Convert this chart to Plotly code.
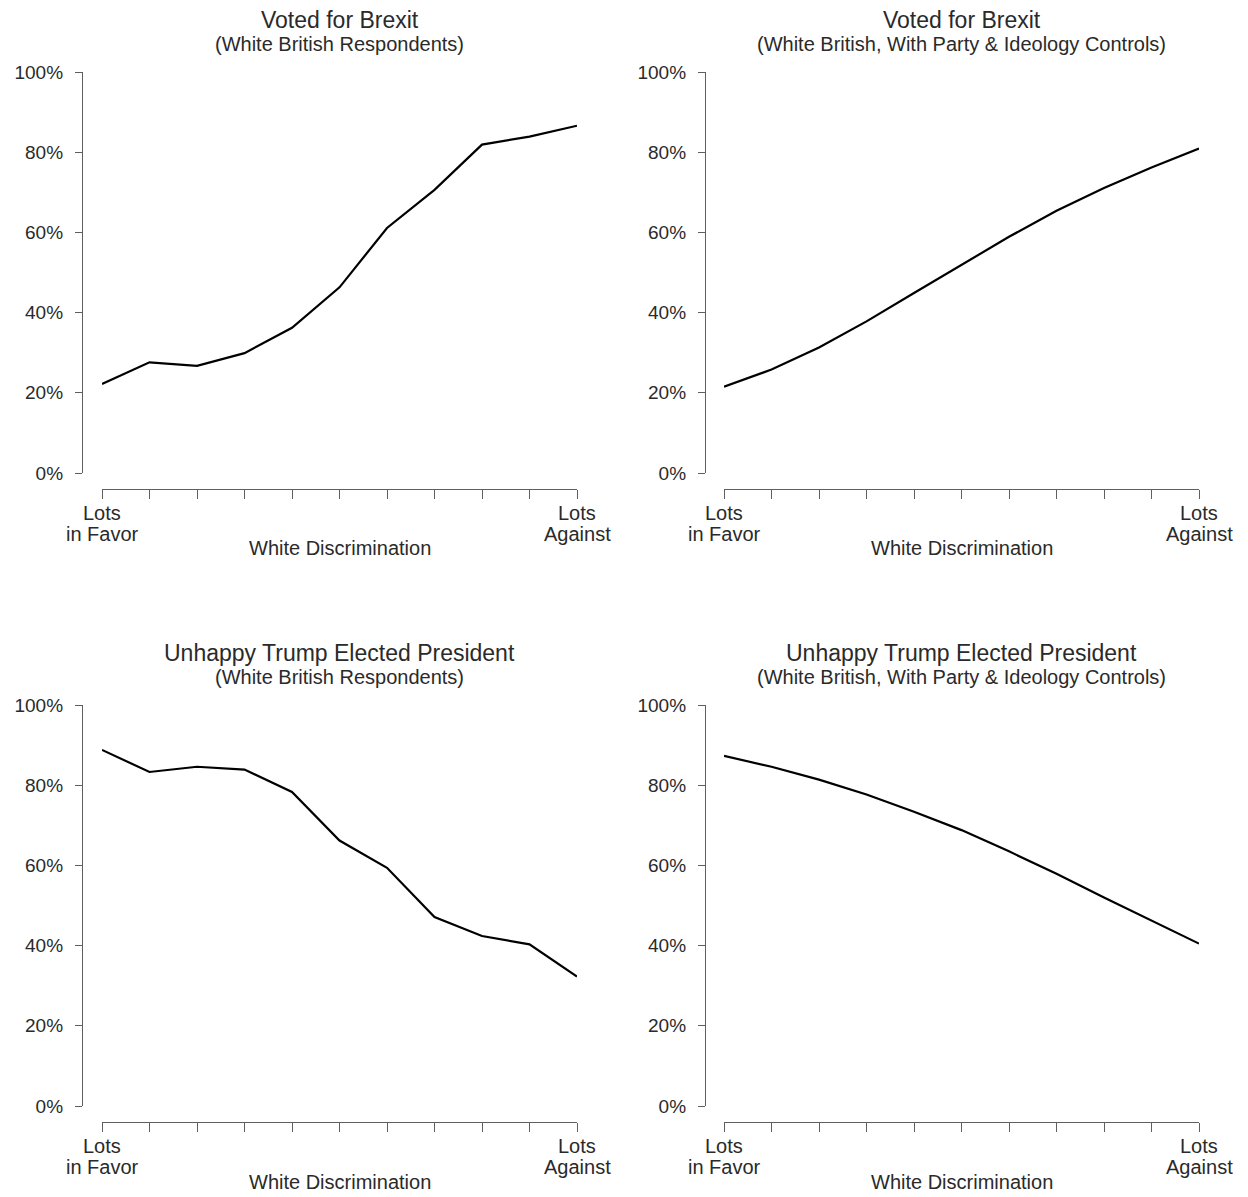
import plotly.graph_objects as go

# page body has an 8px margin; lay things out in reference pixels and shift
OFF = 8
W, H = 1248 - OFF, 1197 - OFF

# ---- data ----
levels = list(range(11))  # White discrimination scale, 0 = Lots in Favor, 10 = Lots Against
brexit_raw = [22.2, 27.6, 26.7, 29.9, 36.2, 46.3, 61.1, 70.6, 81.9, 83.9, 86.6]
brexit_ctrl = [21.5, 25.8, 31.3, 37.8, 44.9, 51.9, 58.9, 65.4, 71.1, 76.2, 80.9]
trump_raw = [88.8, 83.3, 84.6, 83.9, 78.3, 66.2, 59.4, 47.1, 42.4, 40.3, 32.3]
trump_ctrl = [87.3, 84.6, 81.4, 77.7, 73.4, 68.8, 63.5, 57.9, 52.0, 46.3, 40.5]

titles = ["Voted for Brexit", "Voted for Brexit",
          "Unhappy Trump Elected President", "Unhappy Trump Elected President"]
subtitles = ["(White British Respondents)", "(White British, With Party & Ideology Controls)",
             "(White British Respondents)", "(White British, With Party & Ideology Controls)"]
x_title = "White Discrimination"
y_tickvals = [0, 20, 40, 60, 80, 100]
y_ticktext = ["0%", "20%", "40%", "60%", "80%", "100%"]
end_labels_line1 = ["Lots", "Lots"]
end_labels_line2 = ["in Favor", "Against"]

series = [brexit_raw, brexit_ctrl, trump_raw, trump_ctrl]

# ---- layout geometry (reference pixels) ----
col_x = [(102, 577), (724, 1199)]      # data span of x axis
col_yline = [82, 705]                   # y-axis line position
row_y = [(473, 72), (1106, 705)]        # 0% and 100% positions
row_xline = [489, 1122]                 # x-axis line position
row_title = [20, 653]
row_sub = [44, 677]
row_lab1 = [513, 1146]
row_lab2 = [534, 1167]
row_xtitle = [548, 1182]


def fx(px):
    return (px - OFF) / W


def fy(py):
    return 1 - (py - OFF) / H


FONT = "Liberation Sans, Arial, sans-serif"
AXCOL = "#5f5f5f"
TXTCOL = "#2a2a2a"

fig = go.Figure()
layout = dict(
    template="none",
    width=W, height=H, margin=dict(l=0, r=0, t=0, b=0, autoexpand=False),
    paper_bgcolor="white", plot_bgcolor="white", showlegend=False,
    font=dict(family=FONT, color=TXTCOL),
)
annotations = []

for i, vals in enumerate(series):
    r, c = divmod(i, 2)
    xa = "xaxis" if i == 0 else f"xaxis{i+1}"
    ya = "yaxis" if i == 0 else f"yaxis{i+1}"
    xr = "x" if i == 0 else f"x{i+1}"
    yr = "y" if i == 0 else f"y{i+1}"
    x0, x1 = col_x[c]
    y0, y1 = row_y[r]
    fig.add_trace(go.Scatter(x=levels, y=vals, mode="lines",
                             line=dict(color="black", width=2.2),
                             xaxis=xr, yaxis=yr, hoverinfo="skip"))
    layout[xa] = dict(
        domain=[fx(x0), fx(x1)], range=[0, 10], anchor="free",
        position=fy(row_xline[r]), automargin=False,
        showline=True, linecolor=AXCOL, linewidth=1.3,
        ticks="outside", ticklen=9, tickcolor=AXCOL, tickwidth=1.3,
        tickvals=levels, showticklabels=False,
        showgrid=False, zeroline=False, fixedrange=True,
    )
    layout[ya] = dict(
        domain=[fy(y0), fy(y1)], range=[0, 100], anchor="free",
        position=fx(col_yline[c]), automargin=False,
        showline=True, linecolor=AXCOL, linewidth=1.3,
        ticks="outside", ticklen=7, tickcolor=AXCOL, tickwidth=1.3,
        tickvals=y_tickvals, ticktext=y_ticktext, ticklabelstandoff=8,
        tickfont=dict(size=19, family=FONT, color=TXTCOL),
        showgrid=False, zeroline=False, fixedrange=True,
    )
    cx = fx((x0 + x1) / 2)
    annotations.append(dict(text=titles[i], x=cx, y=fy(row_title[r]), xref="paper", yref="paper",
                            xanchor="center", yanchor="middle", showarrow=False,
                            font=dict(size=23, family=FONT, color=TXTCOL)))
    annotations.append(dict(text=subtitles[i], x=cx, y=fy(row_sub[r]), xref="paper", yref="paper",
                            xanchor="center", yanchor="middle", showarrow=False,
                            font=dict(size=20, family=FONT, color=TXTCOL)))
    annotations.append(dict(text=x_title, x=cx, y=fy(row_xtitle[r]), xref="paper", yref="paper",
                            xanchor="center", yanchor="middle", showarrow=False,
                            font=dict(size=20, family=FONT, color=TXTCOL)))
    for k, lv in enumerate([levels[0], levels[-1]]):
        annotations.append(dict(text=end_labels_line1[k], x=lv, y=fy(row_lab1[r]), xref=xr, yref="paper",
                                xanchor="center", yanchor="middle", showarrow=False,
                                font=dict(size=20, family=FONT, color=TXTCOL)))
        annotations.append(dict(text=end_labels_line2[k], x=lv, y=fy(row_lab2[r]), xref=xr, yref="paper",
                                xanchor="center", yanchor="middle", showarrow=False,
                                font=dict(size=20, family=FONT, color=TXTCOL)))

layout["annotations"] = annotations
fig.update_layout(**layout)
fig.write_html("out.html")
